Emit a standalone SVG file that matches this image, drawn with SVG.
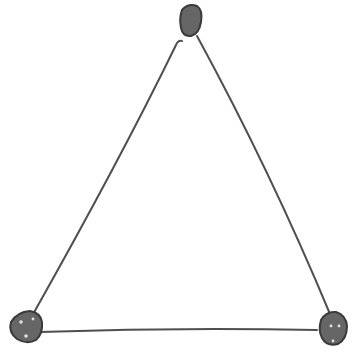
<svg xmlns="http://www.w3.org/2000/svg" width="352" height="355" viewBox="0 0 352 355">
<style>
.node{fill:#666666;stroke:#3a3a3a;stroke-width:2}
.hole{fill:#e0e0e0;stroke:none}
.edge{fill:none;stroke:#4f4f4f;stroke-width:2;stroke-linecap:round}
</style>
<rect width="352" height="355" fill="#ffffff"/>
<g id="connectors">
<path class="edge" d="M182,41 Q178,40 176,45 Q120,160 32,316"/>
<path class="edge" d="M197,36 Q270,170 330,314"/>
<path class="edge" d="M40,332 Q180,327 317,330"/>
</g>
<g id="node-top">
<path class="node" d="M182,10 Q188,3 197,6 Q203,10 201,22 Q199,34 191,36 Q183,37 181,28 Q179,18 182,10 Z"/>
</g>
<g id="node-left">
<path class="node" d="M11,322 Q17,312 30,311 Q41,313 42,322 Q43,334 36,340 Q27,345 17,339 Q8,332 11,322 Z"/>
<circle class="hole" cx="21" cy="322" r="1.8"/>
<circle class="hole" cx="33" cy="319" r="1.4"/>
<circle class="hole" cx="26" cy="336" r="1.8"/>
</g>
<g id="node-right">
<path class="node" d="M321,320 Q326,311 336,312 Q346,315 347,326 Q347,339 338,344 Q327,347 322,338 Q318,330 321,320 Z"/>
<circle class="hole" cx="331" cy="326" r="1.4"/>
<circle class="hole" cx="339" cy="326" r="1.4"/>
<circle class="hole" cx="333" cy="341" r="1.4"/>
</g>
</svg>
